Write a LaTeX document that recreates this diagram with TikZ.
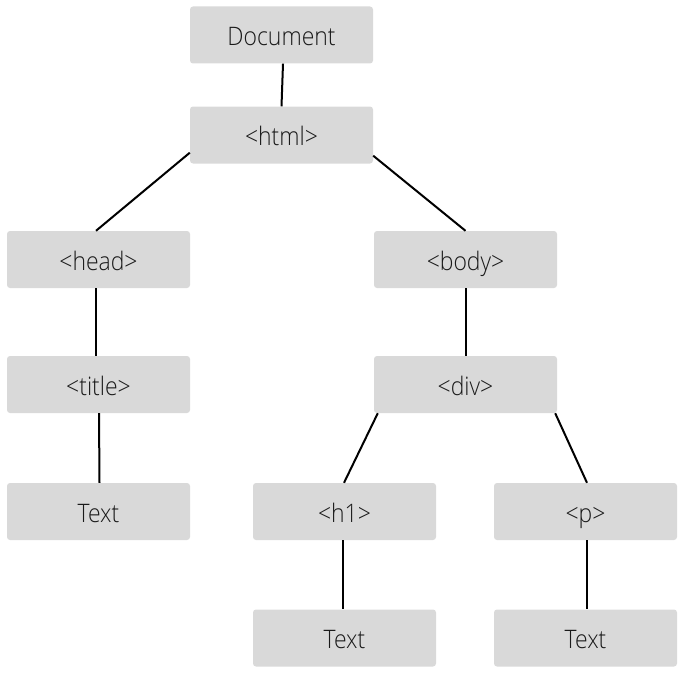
\documentclass[tikz,border=0pt]{standalone}
\usepackage{fontspec}
\setmainfont{Open Sans Light}[FakeStretch=0.9]
\begin{document}
\begin{tikzpicture}[x=1pt,y=-1pt,
  box/.style={fill=boxgray, rounded corners=3pt, minimum width=183pt, minimum height=57pt, inner sep=0pt, text height=21pt, text depth=0pt, font=\fontsize{25.5}{29}\selectfont, text=textdark},
  edge/.style={draw=black, line width=2pt}]
\definecolor{boxgray}{HTML}{D9D9D9}
\definecolor{textdark}{HTML}{1A1A1A}
\useasboundingbox (0,0) rectangle (683,677);
\node[box] (doc)   at (281.5,35)  {Document};
\node[box] (html)  at (281.5,135) {<html>};
\node[box] (head)  at (98.5,259.5) {<head>};
\node[box] (body)  at (465.5,259.5) {<body>};
\node[box] (title) at (98.5,384.5) {<title>};
\node[box] (div)   at (465.5,384.5) {<div>};
\node[box] (t1)    at (98.5,511.5) {Text};
\node[box] (h1)    at (344.5,511.5) {<h1>};
\node[box] (p)     at (585.5,511.5) {<p>};
\node[box] (t2)    at (344.5,638) {Text};
\node[box] (t3)    at (585.5,638) {Text};
\draw[edge] ([xshift=1.5pt]doc.south) -- (html.north);
\draw[edge] ([yshift=11pt]html.south west) -- ([xshift=-2.5pt]head.north);
\draw[edge] ([yshift=8pt]html.south east) -- ([xshift=0pt]body.north);
\draw[edge] ([xshift=-2.5pt]head.south) -- ([xshift=-2.5pt]title.north);
\draw[edge] ([xshift=0.5pt]title.south) -- ([xshift=1pt]t1.north);
\draw[edge] (body.south) -- (div.north);
\draw[edge] ([xshift=4pt]div.south west) -- ([xshift=-0.5pt]h1.north);
\draw[edge] ([xshift=-2pt]div.south east) -- ([xshift=1.5pt]p.north);
\draw[edge] ([xshift=-1.5pt]h1.south) -- ([xshift=-1.5pt]t2.north);
\draw[edge] ([xshift=1.5pt]p.south) -- ([xshift=1.5pt]t3.north);
\end{tikzpicture}
\end{document}
